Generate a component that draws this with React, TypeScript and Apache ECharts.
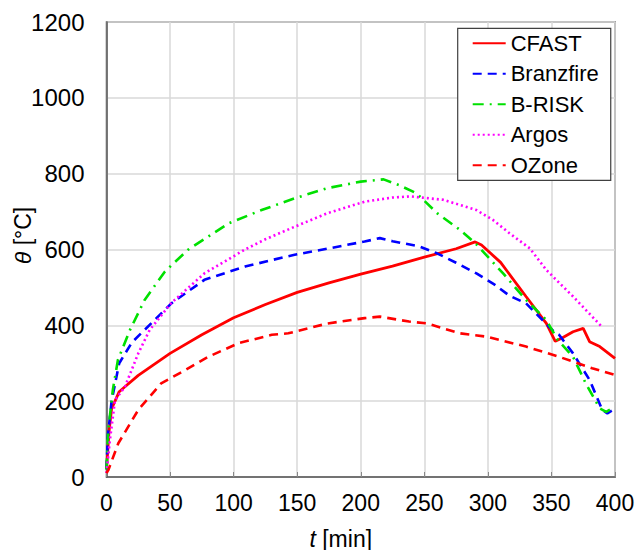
import React, { useEffect, useRef } from "react";
import * as echarts from "echarts";

const seriesNames = ["CFAST", "Branzfire", "B-RISK", "Argos", "OZone"];

const cfast: [number, number][] = [
  [0, 20], [2, 120], [4, 180], [6.7, 200], [10, 225], [14.5, 238], [25, 268], [50, 326], [75, 375],
  [100, 420], [125, 455], [150, 487], [175, 512], [200, 535], [225, 556], [250, 580],
  [275, 602], [290, 620], [295, 612], [310, 566], [330, 476], [346, 405], [353, 358],
  [358, 366], [367, 383], [375, 392], [380, 357], [388, 344], [400, 313],
];
const branzfire: [number, number][] = [
  [0, 20], [1, 105], [4, 200], [10, 300], [20, 355], [30, 388], [51, 458], [77, 520],
  [109, 555], [130, 572], [148, 586], [175, 603], [203, 621], [215, 630], [225, 622],
  [246, 608], [260, 590], [275, 565], [291, 537], [305, 508], [317, 478], [330, 458],
  [343, 414], [352, 383], [356, 375], [367, 326], [380, 256], [390, 177], [394, 168], [400, 180],
];
const brisk: [number, number][] = [
  [0, 20], [1.4, 124], [5, 230], [9, 309], [18.5, 388], [30, 467], [46, 542], [64, 599],
  [96, 669], [122, 704], [148, 735], [174, 762], [200, 779], [218, 785], [230, 770],
  [244, 748], [260, 696], [278, 652], [290, 617], [312, 537], [330, 467], [346, 414],
  [355, 361], [367, 317], [377, 247], [388, 181], [393, 172], [400, 185],
];
const argos: [number, number][] = [
  [0, 10], [2.7, 98], [6.7, 203], [14.5, 238], [25, 326], [34, 388], [51, 459], [77, 537],
  [109, 600], [125, 627], [148, 660], [174, 696], [203, 726], [225, 737], [239, 740],
  [265, 731], [291, 704], [304, 678], [317, 643], [333, 603], [346, 546], [367, 476], [390, 395],
];
const ozone: [number, number][] = [
  [0, 10], [1.4, 18], [9.3, 89], [25, 177], [43, 247], [62, 282], [80, 317], [104, 353],
  [130, 375], [143, 379], [174, 405], [203, 419], [215, 423], [238, 410], [252, 405],
  [278, 379], [299, 370], [330, 344], [356, 317], [382, 287], [400, 269],
];

const xTicks = [0, 50, 100, 150, 200, 250, 300, 350, 400];
const yTicks = [0, 200, 400, 600, 800, 1000, 1200];

const FONT = "Liberation Sans, Arial, sans-serif";

export default function App() {
  const ref = useRef<HTMLDivElement>(null);
  useEffect(() => {
    document.body.style.margin = "0";
    if (!ref.current) return;
    const chart = echarts.init(ref.current, undefined, { renderer: "svg" });
    const mk = (name: string, data: [number, number][], color: string, type: any, width = 2.6) => ({
      name,
      type: "line",
      data,
      showSymbol: false,
      symbol: "none",
      lineStyle: { color, width, type },
      itemStyle: { color },
      z: 3,
    });
    chart.setOption({
      animation: false,
      textStyle: { fontFamily: FONT },
      grid: {
        left: 106.5, right: 23, top: 22, bottom: 73,
        show: true, borderColor: "#595959", borderWidth: 1.5,
        containLabel: false, outerBoundsMode: "none",
      },
      legend: {
        orient: "vertical",
        left: 457.7,
        top: 28.3,
        data: seriesNames,
        itemWidth: 33,
        itemHeight: 14,
        itemGap: 6.5,
        padding: [3, 12, 3, 14],
        borderColor: "#404040",
        borderWidth: 1.2,
        backgroundColor: "#fff",
        borderRadius: 0,
        itemStyle: { opacity: 0 },
        textStyle: { fontFamily: FONT, fontSize: 22, color: "#000", lineHeight: 24 },
      },
      xAxis: {
        type: "value",
        min: 0, max: 400, interval: 50,
        name: "{i|t} [min]",
        nameLocation: "middle",
        nameGap: 50,
        nameTextStyle: {
          fontFamily: FONT, fontSize: 23, color: "#000", padding: [0, 40, 0, 0],
          rich: { i: { fontStyle: "italic", fontSize: 23, fontFamily: FONT, color: "#000" } },
        },
        axisLine: { show: true, lineStyle: { color: "#595959", width: 1.5 } },
        axisTick: { show: true, inside: true, length: 5, lineStyle: { color: "#888" } },
        axisLabel: {
          fontSize: 23, color: "#000", margin: 14, fontFamily: FONT,
          customValues: xTicks,
        },
        splitLine: { show: true, lineStyle: { color: "#d9d9d9", width: 1.5 } },
      },
      yAxis: {
        type: "value",
        min: 0, max: 1200, interval: 200,
        name: "{i|θ} [°C]",
        nameLocation: "middle",
        nameGap: 72,
        nameMoveOverlap: false,
        nameRotate: 90,
        nameTextStyle: {
          fontFamily: FONT, fontSize: 23, color: "#000", padding: [0, 0, 0, 28],
          rich: { i: { fontStyle: "italic", fontSize: 23, fontFamily: FONT, color: "#000" } },
        },
        axisLine: { show: true, lineStyle: { color: "#595959", width: 1.5 } },
        axisTick: { show: false },
        axisLabel: {
          fontSize: 24, color: "#000", margin: 22, fontFamily: FONT, customValues: yTicks,
          formatter: (v: number) => String(v),
        },
        splitLine: { show: true, lineStyle: { color: "#d9d9d9", width: 1.5 } },
      },
      series: [
        mk("CFAST", cfast, "#ff0000", "solid", 2.8),
        mk("Branzfire", branzfire, "#0000ff", [9, 6]),
        mk("B-RISK", brisk, "#00e000", [11, 6, 2, 6]),
        mk("Argos", argos, "#ff00ff", [2, 3]),
        mk("OZone", ozone, "#ff0000", [9, 6]),
      ],
    });
    return () => chart.dispose();
  }, []);
  return <div ref={ref} style={{ width: 638, height: 550 }} />;
}
